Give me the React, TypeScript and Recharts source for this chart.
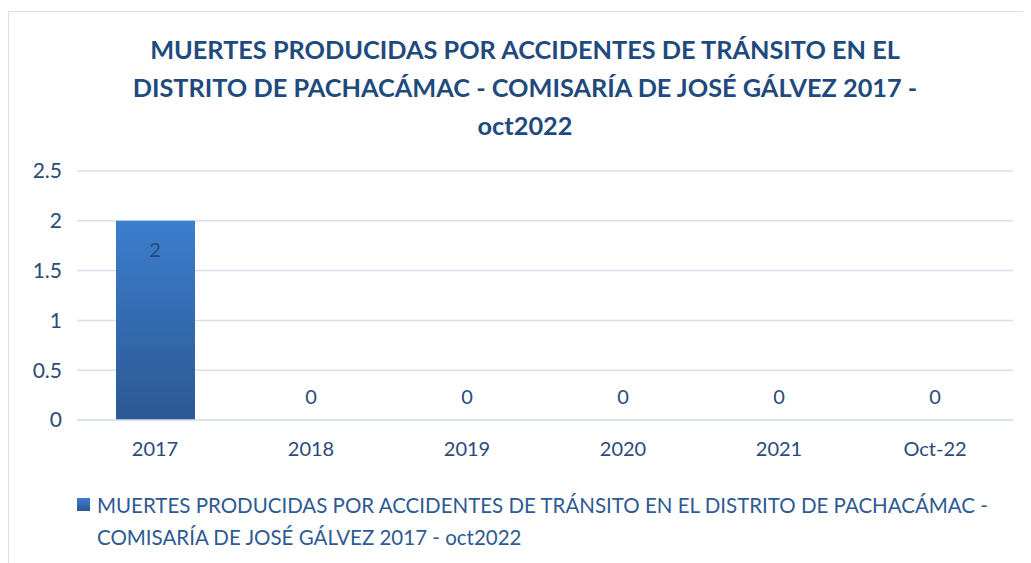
import { ComposedChart, Bar, Line, XAxis, YAxis, CartesianGrid, LabelList } from 'recharts'

const YEARS = ['2017', '2018', '2019', '2020', '2021', 'Oct-22']
const DEATHS = [2, 0, 0, 0, 0, 0]
const Y_TICKS = [0, 0.5, 1, 1.5, 2, 2.5]

const TITLE_LINES = [
  'MUERTES PRODUCIDAS POR ACCIDENTES DE TRÁNSITO EN EL',
  'DISTRITO DE PACHACÁMAC - COMISARÍA DE JOSÉ GÁLVEZ 2017 -',
  'oct2022',
]
const SERIES_NAME =
  'MUERTES PRODUCIDAS POR ACCIDENTES DE TRÁNSITO EN EL DISTRITO DE PACHACÁMAC - COMISARÍA DE JOSÉ GÁLVEZ 2017 - oct2022'

const FONT = 'Lato, "Open Sans", sans-serif'
const TEXT = '#2a4a7a'
const GRID = '#d6e0ef'

const data = YEARS.map((y, i) => ({ year: y, value: DEATHS[i] }))

// value labels: inside the bar top when there is a bar, above the axis otherwise
const renderLabel = (props: any) => {
  const { x, y, value } = props
  const ty = Number(value) > 0 ? Number(y) + 28 : Number(y) - 24
  return (
    <text x={x} y={ty} textAnchor="middle" dominantBaseline="central"
      fontSize={20} fill={TEXT} fontFamily={FONT}>
      {value}
    </text>
  )
}

export default function App() {
  return (
    <div style={{
      position: 'relative', marginTop: 3, width: 1022, height: 552,
      borderLeft: `1.5px solid ${GRID}`, borderTop: `1.5px solid ${GRID}`,
      fontFamily: FONT, background: '#fff',
    }}>
      {/* title */}
      <div style={{
        position: 'absolute', top: 18, left: 0, width: 1032, textAlign: 'center',
        color: '#1f4a7d', fontWeight: 700, fontSize: 25.3, lineHeight: '38px',
      }}>
        {TITLE_LINES.map(l => <div key={l}>{l}</div>)}
      </div>

      <div style={{ position: 'absolute', top: 0, left: 0 }}>
        <ComposedChart width={1022} height={552} data={data}
          margin={{ top: 159, right: 18, left: 0, bottom: 114 }}>
          <defs>
            <linearGradient id="barFill" x1="0" y1="0" x2="0" y2="1">
              <stop offset="0%" stopColor="#3c7ece" />
              <stop offset="100%" stopColor="#2c5893" />
            </linearGradient>
          </defs>
          <CartesianGrid vertical={false} stroke={GRID} strokeWidth={1.5} />
          <XAxis dataKey="year" height={30} tickLine={false} tickSize={0} tickMargin={22}
            axisLine={{ stroke: GRID, strokeWidth: 1.5 }}
            tick={{ fontSize: 20, fill: TEXT, fontFamily: FONT }} />
          <YAxis domain={[0, 2.5]} ticks={Y_TICKS} width={68} axisLine={false}
            tickLine={false} tickSize={0} tickMargin={15}
            tick={{ fontSize: 21, fill: TEXT, fontFamily: FONT }} />
          <Bar dataKey="value" fill="url(#barFill)" barSize={79} isAnimationActive={false} />
          {/* invisible carrier for the data labels, so zero values get one too */}
          <Line dataKey="value" stroke="none" dot={false} activeDot={false}
            legendType="none" isAnimationActive={false}>
            <LabelList dataKey="value" content={renderLabel} />
          </Line>
        </ComposedChart>
      </div>

      {/* legend */}
      <div style={{
        position: 'absolute', top: 477, left: 68, width: 935, display: 'flex',
        color: '#2e5a94', fontSize: 20.5, lineHeight: '32px',
      }}>
        <span style={{
          flex: '0 0 auto', width: 13, height: 13, marginTop: 9, marginRight: 7,
          background: 'linear-gradient(#3c7ece, #2c5893)',
        }} />
        <span>{SERIES_NAME}</span>
      </div>
    </div>
  )
}
